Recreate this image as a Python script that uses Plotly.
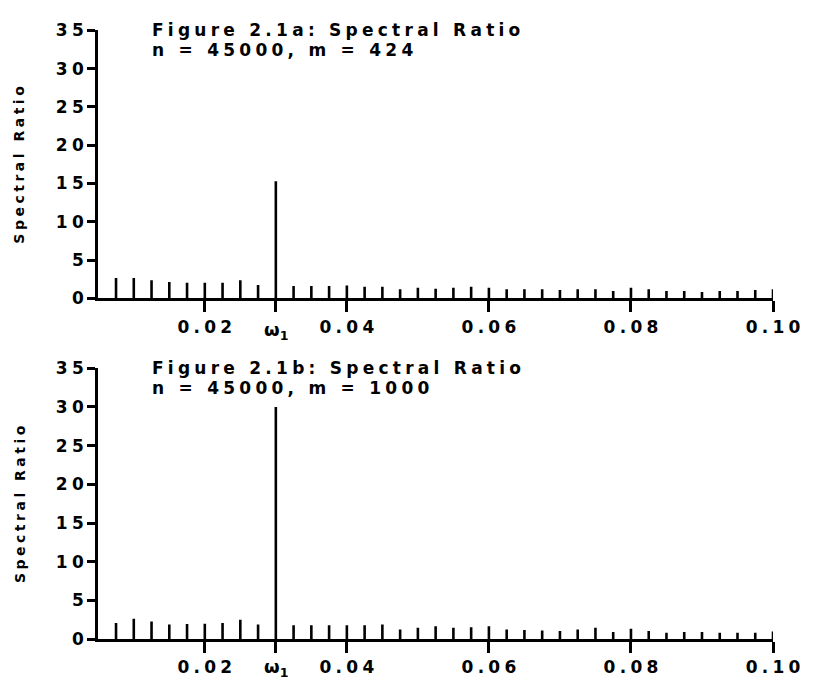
import plotly.graph_objects as go

# ---------------- data ----------------
freqs = [0.0075, 0.0100, 0.0125, 0.0150, 0.0175, 0.0200, 0.0225, 0.0250, 0.0275, 0.0300,
         0.0325, 0.0350, 0.0375, 0.0400, 0.0425, 0.0450, 0.0475, 0.0500, 0.0525, 0.0550,
         0.0575, 0.0600, 0.0625, 0.0650, 0.0675, 0.0700, 0.0725, 0.0750, 0.0775, 0.0800,
         0.0825, 0.0850, 0.0875, 0.0900, 0.0925, 0.0950, 0.0975, 0.1000]

ratio_a = [2.66, 2.66, 2.36, 2.15, 2.03, 2.03, 2.03, 2.36, 1.73, 15.3,
           1.60, 1.60, 1.60, 1.69, 1.52, 1.52, 1.18, 1.39, 1.27, 1.39,
           1.52, 1.39, 1.18, 1.18, 1.18, 1.10, 1.18, 1.18, 0.97, 1.39,
           1.18, 0.97, 0.97, 0.84, 0.97, 0.97, 1.10, 1.18]

ratio_b = [2.08, 2.63, 2.29, 1.88, 1.96, 2.00, 2.08, 2.50, 1.88, 30.0,
           1.79, 1.79, 1.79, 1.79, 1.79, 1.88, 1.25, 1.46, 1.67, 1.46,
           1.54, 1.67, 1.25, 1.17, 1.13, 1.04, 1.25, 1.46, 0.92, 1.33,
           1.04, 0.83, 0.92, 0.92, 0.83, 0.83, 0.83, 1.00]

x_tick_vals = [0.02, 0.03, 0.04, 0.06, 0.08, 0.10]
x_tick_text = ["0.02", "", "0.04", "0.06", "0.08", "0.10"]
y_tick_vals = [0, 5, 10, 15, 20, 25, 30, 35]
y_tick_text = ["0", "5", "10", "15", "20", "25", "30", "35"]
omega_freq = 0.03

titles_a = ["Figure 2.1a: Spectral Ratio", "n = 45000, m = 424"]
titles_b = ["Figure 2.1b: Spectral Ratio", "n = 45000, m = 1000"]
y_title = "Spectral Ratio"

# ---------------- helpers ----------------
FONT = "DejaVu Sans"
W, H = 830, 688


def track(s):
    return "\u2005".join(s)


def bold(s):
    return "<b>" + s + "</b>"


def stems(xs, ys):
    X, Y = [], []
    for x, y in zip(xs, ys):
        X += [x, x, None]
        Y += [0, y, None]
    return X, Y


def px_x(p):
    return p / W


def px_y(p):
    return (H - p) / H


fig = go.Figure()
for vals, xa, ya in [(ratio_a, "x", "y"), (ratio_b, "x2", "y2")]:
    X, Y = stems(freqs, vals)
    fig.add_trace(go.Scatter(x=X, y=Y, mode="lines", xaxis=xa, yaxis=ya,
                             line=dict(color="black", width=2.6),
                             showlegend=False, hoverinfo="skip"))

xdom = [px_x(101.7), px_x(800)]
top_dom = [px_y(297), px_y(21)]
bot_dom = [px_y(648), px_y(369)]

tick_font = dict(family=FONT, size=17, color="black", weight="bold")

xaxis_common = dict(range=[0.005, 0.1], domain=xdom, showgrid=False, zeroline=False,
                    showline=True, linecolor="black", linewidth=2.5,
                    ticks="outside", ticklen=11, tickwidth=2.5, tickcolor="black",
                    tickvals=x_tick_vals, ticktext=[track(t) for t in x_tick_text],
                    tickfont=tick_font)
yaxis_common = dict(range=[0, 35], showgrid=False, zeroline=False,
                    showline=True, linecolor="black", linewidth=3.2,
                    ticks="outside", ticklen=8, tickwidth=2.5, tickcolor="black",
                    tickvals=y_tick_vals, ticktext=[track(t) for t in y_tick_text],
                    tickfont=tick_font)

fig.update_layout(
    width=W, height=H,
    margin=dict(l=0, r=0, t=0, b=0),
    paper_bgcolor="white", plot_bgcolor="white",
    xaxis=dict(**xaxis_common, anchor="y"),
    yaxis=dict(**yaxis_common, domain=top_dom, anchor="x"),
    xaxis2=dict(**xaxis_common, anchor="y2"),
    yaxis2=dict(**yaxis_common, domain=bot_dom, anchor="x2"),
)

ann = []
for (l1, l2), (y1, y2) in [(titles_a, (21, 41)), (titles_b, (369, 389))]:
    for txt, yy in [(l1, y1), (l2, y2)]:
        ann.append(dict(text=bold(track(txt)), x=px_x(155), y=px_y(yy), xref="paper", yref="paper",
                        xanchor="left", yanchor="middle", showarrow=False,
                        font=dict(family=FONT, size=17, color="black")))
for yc in [(21 + 297) / 2, (369 + 648) / 2]:
    ann.append(dict(text=bold(track(y_title)), x=px_x(20), y=px_y(yc), xref="paper", yref="paper",
                    textangle=-90, xanchor="center", yanchor="middle", showarrow=False,
                    font=dict(family=FONT, size=14, color="black")))
for xr, yy in [("x", 331), ("x2", 678)]:
    ann.append(dict(text="<b>ω<sub>1</sub></b>", x=omega_freq, xref=xr, y=px_y(yy), yref="paper",
                    xanchor="center", yanchor="middle", showarrow=False,
                    font=dict(family=FONT, size=18, color="black")))
fig.update_layout(annotations=ann)

fig.write_html("out.html")
